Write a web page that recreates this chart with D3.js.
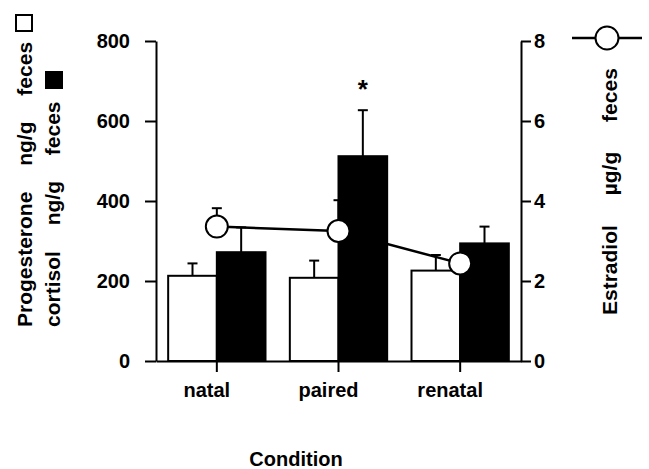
<!DOCTYPE html>
<html>
<head>
<meta charset="utf-8">
<script src="https://cdn.jsdelivr.net/npm/d3@7"></script>
<style>
  body { margin: 0; background: #fff; }
  text { font-family: "Liberation Sans", Arial, Helvetica, sans-serif; font-weight: bold; fill: #000; }
</style>
</head>
<body>
<svg id="chart" width="649" height="469"></svg>
<script>
// Condition groups
let conditions = ["natal", "paired", "renatal"];

// Progesterone (ng/g feces), open bars, with upper SE
let progesterone = [213, 208, 226];
let progesteroneSE = [31, 43, 39];

// Cortisol (ng/g feces), filled bars, with upper SE
let cortisol = [272, 512, 294];
let cortisolSE = [62, 115, 42];

// Estradiol (ug/g feces), circles on the right axis, with upper SE
let estradiol = [3.36, 3.25, 2.44];
let estradiolSE = [0.46, 0.77, 0.15];

let leftTicks = [0, 200, 400, 600, 800];
let rightTicks = [0, 2, 4, 6, 8];

let svg = d3.select("#chart");

let x = d3.scaleBand()
  .domain(conditions)
  .range([156, 521])
  .paddingInner(0.2)
  .paddingOuter(0.1);
let xSeries = d3.scaleBand()
  .domain(["progesterone", "cortisol"])
  .range([0, x.bandwidth()]);
let yLeft = d3.scaleLinear().domain([0, 800]).range([361, 41]);
let yRight = d3.scaleLinear().domain([0, 8]).range([361, 41]);

let rows = conditions.map((c, i) => ({
  c: c,
  p: progesterone[i], pse: progesteroneSE[i],
  k: cortisol[i], kse: cortisolSE[i],
  e: estradiol[i], ese: estradiolSE[i]
}));
let mid = d => x(d.c) + x.bandwidth() / 2;

// Estradiol error bars sit behind the bars
let eErr = svg.append("g").attr("stroke", "#000").attr("stroke-width", 2);
eErr.selectAll("line.v").data(rows).enter().append("line")
  .attr("x1", mid).attr("x2", mid)
  .attr("y1", d => yRight(d.e)).attr("y2", d => yRight(d.e + d.ese));
eErr.selectAll("line.c").data(rows).enter().append("line")
  .attr("x1", d => mid(d) - 5).attr("x2", d => mid(d) + 5)
  .attr("y1", d => yRight(d.e + d.ese)).attr("y2", d => yRight(d.e + d.ese));

// Bar error bars (upper only)
function errorBars(key, seKey, series) {
  let g = svg.append("g").attr("stroke", "#000").attr("stroke-width", 2);
  let cx = d => x(d.c) + xSeries(series) + xSeries.bandwidth() / 2;
  g.selectAll("line.v").data(rows).enter().append("line")
    .attr("x1", cx).attr("x2", cx)
    .attr("y1", d => yLeft(d[key])).attr("y2", d => yLeft(d[key] + d[seKey]));
  g.selectAll("line.c").data(rows).enter().append("line")
    .attr("x1", d => cx(d) - 5).attr("x2", d => cx(d) + 5)
    .attr("y1", d => yLeft(d[key] + d[seKey])).attr("y2", d => yLeft(d[key] + d[seKey]));
}
errorBars("p", "pse", "progesterone");
errorBars("k", "kse", "cortisol");

// Bars
svg.append("g").selectAll("rect").data(rows).enter().append("rect")
  .attr("x", d => x(d.c) + xSeries("progesterone"))
  .attr("y", d => yLeft(d.p))
  .attr("width", xSeries.bandwidth())
  .attr("height", d => yLeft(0) - yLeft(d.p))
  .attr("fill", "#fff").attr("stroke", "#000").attr("stroke-width", 2);
svg.append("g").selectAll("rect").data(rows).enter().append("rect")
  .attr("x", d => x(d.c) + xSeries("cortisol"))
  .attr("y", d => yLeft(d.k))
  .attr("width", xSeries.bandwidth())
  .attr("height", d => yLeft(0) - yLeft(d.k))
  .attr("fill", "#000").attr("stroke", "#000").attr("stroke-width", 2);

// Estradiol line and circles
let line = d3.line().x(mid).y(d => yRight(d.e));
svg.append("path").datum(rows)
  .attr("d", line).attr("fill", "none").attr("stroke", "#000").attr("stroke-width", 2.5);
svg.append("g").selectAll("circle").data(rows).enter().append("circle")
  .attr("cx", mid).attr("cy", d => yRight(d.e)).attr("r", 11)
  .attr("fill", "#fff").attr("stroke", "#000").attr("stroke-width", 2);

// Significance marker over paired cortisol
svg.append("text")
  .attr("x", x("paired") + xSeries("cortisol") + xSeries.bandwidth() / 2)
  .attr("y", 98)
  .attr("text-anchor", "middle")
  .style("font-size", "26px")
  .text("*");

// Axes
function styleAxis(g) {
  g.selectAll("path, line").attr("stroke", "#000").attr("stroke-width", 2);
  g.selectAll("text").style("font-size", "20px").attr("font-family", null);
}
svg.append("g")
  .attr("transform", "translate(156,0)")
  .call(d3.axisLeft(yLeft).tickValues(leftTicks).tickSize(11).tickSizeOuter(0).tickPadding(15))
  .call(styleAxis);
svg.append("g")
  .attr("transform", "translate(521,0)")
  .call(d3.axisRight(yRight).tickValues(rightTicks).tickSize(10).tickSizeOuter(0).tickPadding(3))
  .call(styleAxis);
let xAxis = svg.append("g")
  .attr("transform", "translate(0,361)")
  .call(d3.axisBottom(x).tickSize(11).tickSizeOuter(0).tickPadding(11))
  .call(styleAxis);
xAxis.selectAll("text").attr("dx", -10);

svg.append("text")
  .attr("x", 296).attr("y", 466)
  .attr("text-anchor", "middle")
  .style("font-size", "20px")
  .text("Condition");

// Left titles (widely spaced words, as in the original figure)
svg.append("text")
  .attr("transform", "translate(32,327) rotate(-90)")
  .style("font-size", "21px").style("word-spacing", "20px")
  .text("Progesterone ng/g feces");
svg.append("text")
  .attr("transform", "translate(60,327) rotate(-90)")
  .style("font-size", "21px").style("word-spacing", "20px")
  .text("cortisol ng/g feces");
svg.append("rect")
  .attr("x", 16).attr("y", 15).attr("width", 16).attr("height", 16)
  .attr("fill", "#fff").attr("stroke", "#000").attr("stroke-width", 2);
svg.append("rect")
  .attr("x", 45).attr("y", 71).attr("width", 18).attr("height", 18)
  .attr("fill", "#000");

// Right title and legend symbol
svg.append("text")
  .attr("transform", "translate(617,315) rotate(-90)")
  .style("font-size", "21px").style("word-spacing", "24px")
  .text("Estradiol \u00b5g/g feces");
svg.append("line")
  .attr("x1", 572).attr("x2", 642).attr("y1", 38).attr("y2", 38)
  .attr("stroke", "#000").attr("stroke-width", 2.5);
svg.append("circle")
  .attr("cx", 607).attr("cy", 38).attr("r", 11.5)
  .attr("fill", "#fff").attr("stroke", "#000").attr("stroke-width", 2);
</script>
</body>
</html>
